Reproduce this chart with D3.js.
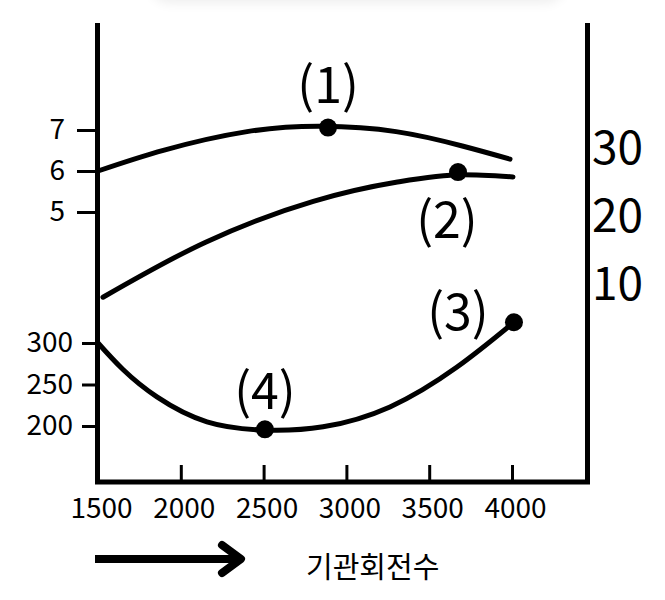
<!DOCTYPE html>
<html>
<head>
<meta charset="utf-8">
<script src="https://cdn.jsdelivr.net/npm/d3@7"></script>
<style>
  body { margin: 0; background: #fff; overflow: hidden; }
  #shade {
    position: absolute; left: 150px; top: -40px; width: 415px; height: 40px;
    border-radius: 20px; background: #fff;
    box-shadow: 0 3px 12px rgba(0, 0, 0, 0.07);
  }
  svg { position: absolute; left: 0; top: 0; }
  text { font-family: "Noto Sans CJK KR", "Noto Sans", sans-serif; fill: #000; }
</style>
</head>
<body>
<div id="shade"></div>
<svg id="chart" width="665" height="600"></svg>
<script>
// x ticks (engine speed)
var xTicks = [1500, 2000, 2500, 3000, 3500, 4000];
var upperTicks = [5, 6, 7];
var lowerTicks = [200, 250, 300];
var rightTicks = [10, 20, 30];
var xTitle = '기관회전수';

// curve (1): upper left scale
var rpm1 = [1500, 1900, 2400, 2850, 3300, 3700, 3988];
var val1 = [6.0, 6.51, 6.96, 7.09, 6.96, 6.61, 6.29];
// curve (2): right scale
var rpm2 = [1530, 2150, 2800, 3300, 3700, 4006];
var val2 = [8.2, 16.3, 22.3, 25.1, 26.2, 25.9];
// curve (3)/(4): lower left scale
var rpm3 = [1500, 1651, 1856, 2158, 2508, 2859, 3263, 3668, 4012];
var val3 = [300, 268, 235, 205, 195, 199, 223, 271, 325];

// marked points and their labels
var markLabels = ['(1)', '(2)', '(3)', '(4)'];
var markRpm = [2889, 3674, 4012, 2508];
var markVal = [7.06, 26.6, 325, 196];
var markScale = ['upper', 'right', 'lower', 'lower'];

var svg = d3.select('#chart');

var x = d3.scaleLinear().domain([1500, 4000]).range([98, 512]);
var yUpper = d3.scaleLinear().domain([5, 7]).range([212, 130]);
var yLower = d3.scaleLinear().domain([200, 300]).range([426, 343]);
var yRight = d3.scaleLinear().domain([10, 30]).range([285, 149]);
var scales = {upper: yUpper, lower: yLower, right: yRight};

// frame
svg.append('line').attr('x1', 97.5).attr('x2', 97.5).attr('y1', 23).attr('y2', 484)
  .attr('stroke', '#000').attr('stroke-width', 5);
svg.append('line').attr('x1', 587.5).attr('x2', 587.5).attr('y1', 23).attr('y2', 484)
  .attr('stroke', '#000').attr('stroke-width', 5);
svg.append('line').attr('x1', 95).attr('x2', 590).attr('y1', 482).attr('y2', 482)
  .attr('stroke', '#000').attr('stroke-width', 5);

// x axis, ticks point up into the plot
var gx = svg.append('g').attr('transform', 'translate(0,482)')
  .call(d3.axisBottom(x).tickValues(xTicks).tickFormat(d3.format('d'))
    .tickSizeInner(-17).tickSizeOuter(0).tickPadding(16));
gx.select('.domain').remove();
gx.selectAll('.tick line').attr('stroke', '#000').attr('stroke-width', 3);
gx.selectAll('.tick text').style('font-size', '28px').attr('dx', 3);

// upper left axis
var gu = svg.append('g').attr('transform', 'translate(98,0)')
  .call(d3.axisLeft(yUpper).tickValues(upperTicks).tickFormat(d3.format('d'))
    .tickSizeInner(21).tickSizeOuter(0).tickPadding(12));
gu.select('.domain').remove();
gu.selectAll('.tick line').attr('stroke', '#000').attr('stroke-width', 3);
gu.selectAll('.tick text').style('font-size', '28px');

// lower left axis
var gl = svg.append('g').attr('transform', 'translate(98,0)')
  .call(d3.axisLeft(yLower).tickValues(lowerTicks).tickFormat(d3.format('d'))
    .tickSizeInner(16).tickSizeOuter(0).tickPadding(9));
gl.select('.domain').remove();
gl.selectAll('.tick line').attr('stroke', '#000').attr('stroke-width', 3);
gl.selectAll('.tick text').style('font-size', '28px');

// right axis, labels only
var gr = svg.append('g').attr('transform', 'translate(588,0)')
  .call(d3.axisRight(yRight).tickValues(rightTicks).tickFormat(d3.format('d'))
    .tickSize(0).tickPadding(4));
gr.select('.domain').remove();
gr.selectAll('.tick text').style('font-size', '46px');

// curves
function drawCurve(rpm, vals, yScale, curve) {
  var line = d3.line()
    .x(function(d, i) { return x(rpm[i]); })
    .y(function(d) { return yScale(d); })
    .curve(curve);
  svg.append('path').datum(vals)
    .attr('d', line)
    .attr('fill', 'none')
    .attr('stroke', '#000')
    .attr('stroke-width', 5)
    .attr('stroke-linecap', 'round');
}
drawCurve(rpm1, val1, yUpper, d3.curveNatural);
drawCurve(rpm2, val2, yRight, d3.curveMonotoneX);
drawCurve(rpm3, val3, yLower, d3.curveNatural);

// dots
markLabels.forEach(function(lab, i) {
  svg.append('circle')
    .attr('cx', x(markRpm[i]))
    .attr('cy', scales[markScale[i]](markVal[i]))
    .attr('r', 9)
    .attr('fill', '#000');
});

// labels (offsets relative to their dot)
var labelDx = [0, -11, -56, 0];
var labelDy = [-25, 66, 8, -20];
markLabels.forEach(function(lab, i) {
  svg.append('text')
    .attr('x', x(markRpm[i]) + labelDx[i])
    .attr('y', scales[markScale[i]](markVal[i]) + labelDy[i])
    .attr('text-anchor', 'middle')
    .style('font-size', '50px')
    .text(lab);
});

// arrow + axis title
svg.append('line').attr('x1', 95).attr('x2', 240).attr('y1', 559).attr('y2', 559)
  .attr('stroke', '#000').attr('stroke-width', 8);
svg.append('path').attr('d', 'M222,545 L241,559 L222,573')
  .attr('fill', 'none').attr('stroke', '#000').attr('stroke-width', 8)
  .attr('stroke-linecap', 'round').attr('stroke-linejoin', 'round');
svg.append('text').attr('x', 306).attr('y', 578)
  .style('font-size', '29px').text(xTitle);
</script>
</body>
</html>
